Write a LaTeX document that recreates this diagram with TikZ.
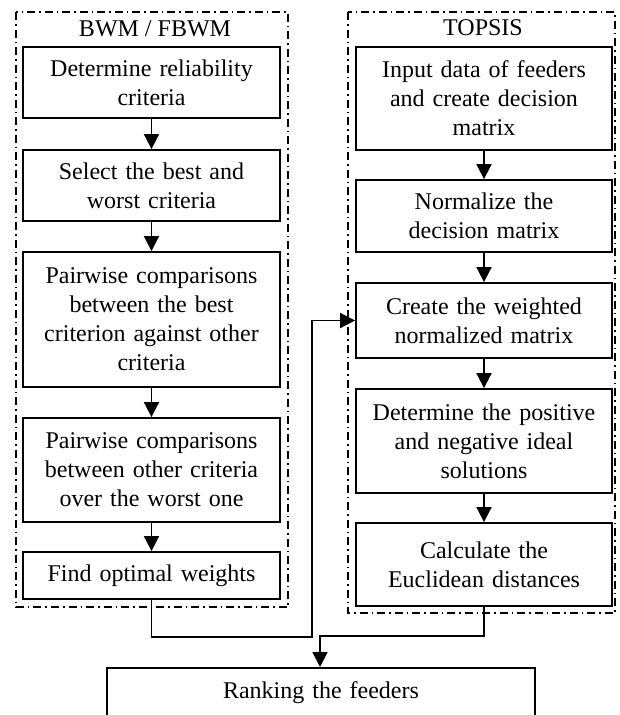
\documentclass[tikz,border=0pt]{standalone}
\usepackage{fontspec}
\setmainfont{Liberation Serif}
\usetikzlibrary{arrows.meta}
\tikzset{
	blk/.style={draw,line width=1.8pt,inner sep=0pt,align=center,font=\fontsize{24}{29}\selectfont},
	ttl/.style={anchor=base,inner sep=0pt,font=\fontsize{24}{29}\selectfont},
	frame/.style={line width=1.2pt,dash pattern=on 8pt off 4pt on 1.5pt off 4pt},
	arr/.style={line width=1.8pt,-{Triangle[length=15pt,width=15pt]}},
}
\begin{document}
\begin{tikzpicture}[x=1pt,y=-1pt]
	\useasboundingbox (0,0) rectangle (620,715);
	\draw[frame] (16,12) rectangle (288,607);
	\draw[frame] (348,12) rectangle (615,613);
	\node[ttl] (bwm) at (155,36) {BWM / FBWM};
	\node[ttl] (topsis) at (483,35) {TOPSIS};
	\node[blk,text width=257pt,minimum height=71pt] (bwmA) at (151.5,82.5) {Determine reliability\\criteria};
	\node[blk,text width=257pt,minimum height=71pt] (bwmB) at (151.5,185.5) {Select the best and\\worst criteria};
	\node[blk,text width=257pt,minimum height=135pt] (bwmC) at (151.5,319.5) {Pairwise comparisons\\between the best\\criterion against other\\criteria};
	\node[blk,text width=257pt,minimum height=104pt] (bwmD) at (151.5,470) {Pairwise comparisons\\between other criteria\\over the worst one};
	\node[blk,text width=257pt,minimum height=47pt] (bwmE) at (151.5,575.5) {Find optimal weights};
	\node[blk,text width=256pt,minimum height=103pt] (topA) at (484,98.5) {Input data of feeders\\and create decision\\matrix};
	\node[blk,text width=256pt,minimum height=72pt] (topB) at (484,216) {Normalize the\\decision matrix};
	\node[blk,text width=256pt,minimum height=75pt] (topC) at (484,320.5) {Create the weighted\\normalized matrix};
	\node[blk,text width=256pt,minimum height=104pt] (topD) at (484,441) {Determine the positive\\and negative ideal\\solutions};
	\node[blk,text width=256pt,minimum height=83pt] (topE) at (484,564.5) {Calculate the\\Euclidean distances};
	\node[blk,anchor=north,text width=428pt,text height=31pt,text depth=42pt] (rank) at (321,667) {Ranking the feeders};
	\draw[arr] (bwmA) -- (bwmB);
	\draw[arr] (bwmB) -- (bwmC);
	\draw[arr] (bwmC) -- (bwmD);
	\draw[arr] (bwmD) -- (bwmE);
	\draw[arr] (topA) -- (topB);
	\draw[arr] (topB) -- (topC);
	\draw[arr] (topC) -- (topD);
	\draw[arr] (topD) -- (topE);
	\coordinate (jL) at (312,637);
	\coordinate (jR) at (320,636);
	\draw[arr] (bwmE.south) |- (jL) |- (topC.west);
	\draw[arr] (topE.south) |- (jR) -- (jR |- rank.north);
\end{tikzpicture}
\end{document}
